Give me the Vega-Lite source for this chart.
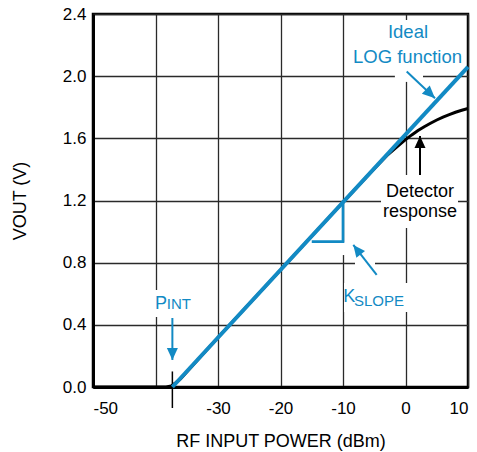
{
  "$schema": "https://vega.github.io/schema/vega-lite/v6.json",
  "width": 375,
  "height": 373,
  "autosize": "none",
  "padding": {"left": 93, "top": 14, "right": 9, "bottom": 65},
  "background": "white",
  "config": {
    "font": "Liberation Sans",
    "view": {"stroke": "black", "strokeWidth": 2.5},
    "axis": {
      "grid": true, "gridColor": "#2a2a2a", "gridWidth": 1.3, "gridOpacity": 1,
      "ticks": false, "domainColor": "black", "domainWidth": 3,
      "labelFont": "Liberation Sans", "labelFontSize": 17, "labelColor": "black",
      "titleFont": "Liberation Sans", "titleFontSize": 18, "titleFontWeight": "normal", "titleColor": "black"
    }
  },
  "datasets": {
    "boxes": [
      {"x": -8.9, "x2": 9.5, "y": 2.04, "y2": 2.362},
      {"x": -1.7, "x2": 2.8, "y": 1.963, "y2": 2.04},
      {"x": -3.92, "x2": 8.4, "y": 1.023, "y2": 1.364},
      {"x": -9.84, "x2": 0.72, "y": 0.483, "y2": 0.669},
      {"x": -8.08, "x2": -4.88, "y": 0.74, "y2": 0.849},
      {"x": -10.8, "x2": -8.88, "y": 0.849, "y2": 0.933},
      {"x": -40.4, "x2": -33.7, "y": 0.45, "y2": 0.624}
    ],
    "detector": [
      {"x": -50, "y": 0}, {"x": -40, "y": 0}, {"x": -38.3, "y": 0}, {"x": -37.5, "y": 0.006},
      {"x": -36.8, "y": 0.026}, {"x": -36, "y": 0.052}, {"x": -35, "y": 0.096}, {"x": -30, "y": 0.318},
      {"x": -20, "y": 0.753}, {"x": -10, "y": 1.189}, {"x": -5, "y": 1.405}, {"x": -3, "y": 1.488},
      {"x": -1, "y": 1.558}, {"x": 0, "y": 1.592}, {"x": 1, "y": 1.622}, {"x": 2, "y": 1.65},
      {"x": 3, "y": 1.675}, {"x": 4, "y": 1.697}, {"x": 5, "y": 1.718}, {"x": 6, "y": 1.737},
      {"x": 7, "y": 1.753}, {"x": 8, "y": 1.768}, {"x": 9, "y": 1.781}, {"x": 10, "y": 1.792}
    ],
    "ideal": [{"x": -37.3, "y": 0}, {"x": 10, "y": 2.06}],
    "slope": [{"x": -15.0, "y": 0.935, "i": 1}, {"x": -10, "y": 0.935, "i": 2}, {"x": -10, "y": 1.189, "i": 3}],
    "arrows": [
      {"name": "ideal", "x": 0.19, "y": 2.03, "x2": 4.72, "y2": 1.858},
      {"name": "detector", "x": 2.32, "y": 1.364, "x2": 2.32, "y2": 1.615},
      {"name": "pint", "x": -37.3, "y": 0.444, "x2": -37.3, "y2": 0.174},
      {"name": "kslope", "x": -4.61, "y": 0.721, "x2": -8.35, "y2": 0.914}
    ],
    "pinttick": [{"x": -37.3, "y": -0.135, "y2": 0.1}],
    "bluebig": [
      {"x": 0.4, "y": 2.246, "label": "Ideal"},
      {"x": 0.32, "y": 2.085, "label": "LOG function"}
    ],
    "blackbig": [
      {"x": 2.32, "y": 1.223, "label": "Detector"},
      {"x": 2.32, "y": 1.096, "label": "response"}
    ],
    "mainletters": [
      {"x": -40.1, "y": 0.502, "label": "P"},
      {"x": -9.95, "y": 0.549, "label": "K"}
    ],
    "subs": [
      {"x": -38.2, "y": 0.502, "label": "INT"},
      {"x": -8.24, "y": 0.523, "label": "SLOPE"}
    ]
  },
  "layer": [
    {
      "data": {"name": "boxes"},
      "mark": {"type": "rect", "color": "white"},
      "encoding": {
        "x": {"field": "x", "type": "quantitative",
          "scale": {"domain": [-50, 10], "nice": false, "zero": false},
          "axis": {"values": [-50, -40, -30, -20, -10, 0, 10],
            "labelExpr": "datum.value == -40 ? '' : toString(datum.value)",
            "title": "RF INPUT POWER (dBm)", "labelPadding": 13, "labelDx": -4, "titlePadding": 16}},
        "x2": {"field": "x2"},
        "y": {"field": "y", "type": "quantitative",
          "scale": {"domain": [0, 2.4], "nice": false, "zero": false},
          "axis": {"values": [0, 0.4, 0.8, 1.2, 1.6, 2.0, 2.4], "format": ".1f",
            "title": "VOUT (V)", "labelPadding": 7, "titlePadding": 33}},
        "y2": {"field": "y2"}
      }
    },
    {
      "data": {"name": "detector"},
      "mark": {"type": "line", "color": "black", "strokeWidth": 3},
      "encoding": {
        "x": {"field": "x", "type": "quantitative"},
        "y": {"field": "y", "type": "quantitative"}
      }
    },
    {
      "data": {"name": "pinttick"},
      "mark": {"type": "rule", "color": "black", "strokeWidth": 1.5, "clip": false},
      "encoding": {
        "x": {"field": "x", "type": "quantitative"},
        "y": {"field": "y", "type": "quantitative"},
        "y2": {"field": "y2"}
      }
    },
    {
      "data": {"name": "ideal"},
      "mark": {"type": "line", "color": "#128ac4", "strokeWidth": 4},
      "encoding": {
        "x": {"field": "x", "type": "quantitative"},
        "y": {"field": "y", "type": "quantitative"}
      }
    },
    {
      "data": {"name": "slope"},
      "mark": {"type": "line", "color": "#128ac4", "strokeWidth": 2.7},
      "encoding": {
        "x": {"field": "x", "type": "quantitative"},
        "y": {"field": "y", "type": "quantitative"},
        "order": {"field": "i"}
      }
    },
    {
      "data": {"name": "arrows"},
      "transform": [{"filter": "datum.name != 'detector'"}],
      "mark": {"type": "rule", "color": "#128ac4", "strokeWidth": 2},
      "encoding": {
        "x": {"field": "x", "type": "quantitative"},
        "y": {"field": "y", "type": "quantitative"},
        "x2": {"field": "x2"},
        "y2": {"field": "y2"}
      }
    },
    {
      "data": {"name": "arrows"},
      "transform": [{"filter": "datum.name == 'detector'"}],
      "mark": {"type": "rule", "color": "black", "strokeWidth": 2},
      "encoding": {
        "x": {"field": "x", "type": "quantitative"},
        "y": {"field": "y", "type": "quantitative"},
        "x2": {"field": "x2"},
        "y2": {"field": "y2"}
      }
    },
    {
      "data": {"name": "arrows"},
      "transform": [{"filter": "datum.name == 'ideal'"}],
      "mark": {"type": "point", "shape": "M0,0L-1.1,2.4L1.1,2.4Z", "size": 110, "filled": true, "opacity": 1, "color": "#128ac4", "angle": 133},
      "encoding": {
        "x": {"field": "x2", "type": "quantitative"},
        "y": {"field": "y2", "type": "quantitative"}
      }
    },
    {
      "data": {"name": "arrows"},
      "transform": [{"filter": "datum.name == 'pint'"}],
      "mark": {"type": "point", "shape": "M0,0L-1.1,2.4L1.1,2.4Z", "size": 100, "filled": true, "opacity": 1, "color": "#128ac4", "angle": 180},
      "encoding": {
        "x": {"field": "x2", "type": "quantitative"},
        "y": {"field": "y2", "type": "quantitative"}
      }
    },
    {
      "data": {"name": "arrows"},
      "transform": [{"filter": "datum.name == 'kslope'"}],
      "mark": {"type": "point", "shape": "M0,0L-1.1,2.4L1.1,2.4Z", "size": 100, "filled": true, "opacity": 1, "color": "#128ac4", "angle": 322},
      "encoding": {
        "x": {"field": "x2", "type": "quantitative"},
        "y": {"field": "y2", "type": "quantitative"}
      }
    },
    {
      "data": {"name": "arrows"},
      "transform": [{"filter": "datum.name == 'detector'"}],
      "mark": {"type": "point", "shape": "M0,0L-1.1,2.4L1.1,2.4Z", "size": 100, "filled": true, "opacity": 1, "color": "black", "angle": 0},
      "encoding": {
        "x": {"field": "x2", "type": "quantitative"},
        "y": {"field": "y2", "type": "quantitative"}
      }
    },
    {
      "data": {"name": "bluebig"},
      "mark": {"type": "text", "color": "#128ac4", "fontSize": 18.5, "align": "center", "baseline": "alphabetic", "font": "Liberation Sans"},
      "encoding": {
        "x": {"field": "x", "type": "quantitative"},
        "y": {"field": "y", "type": "quantitative"},
        "text": {"field": "label"}
      }
    },
    {
      "data": {"name": "blackbig"},
      "mark": {"type": "text", "color": "black", "fontSize": 18, "align": "center", "baseline": "alphabetic", "font": "Liberation Sans"},
      "encoding": {
        "x": {"field": "x", "type": "quantitative"},
        "y": {"field": "y", "type": "quantitative"},
        "text": {"field": "label"}
      }
    },
    {
      "data": {"name": "mainletters"},
      "mark": {"type": "text", "color": "#128ac4", "fontSize": 18, "align": "left", "baseline": "alphabetic", "font": "Liberation Sans"},
      "encoding": {
        "x": {"field": "x", "type": "quantitative"},
        "y": {"field": "y", "type": "quantitative"},
        "text": {"field": "label"}
      }
    },
    {
      "data": {"name": "subs"},
      "mark": {"type": "text", "color": "#128ac4", "fontSize": 15, "align": "left", "baseline": "alphabetic", "font": "Liberation Sans"},
      "encoding": {
        "x": {"field": "x", "type": "quantitative"},
        "y": {"field": "y", "type": "quantitative"},
        "text": {"field": "label"}
      }
    }
  ]
}
